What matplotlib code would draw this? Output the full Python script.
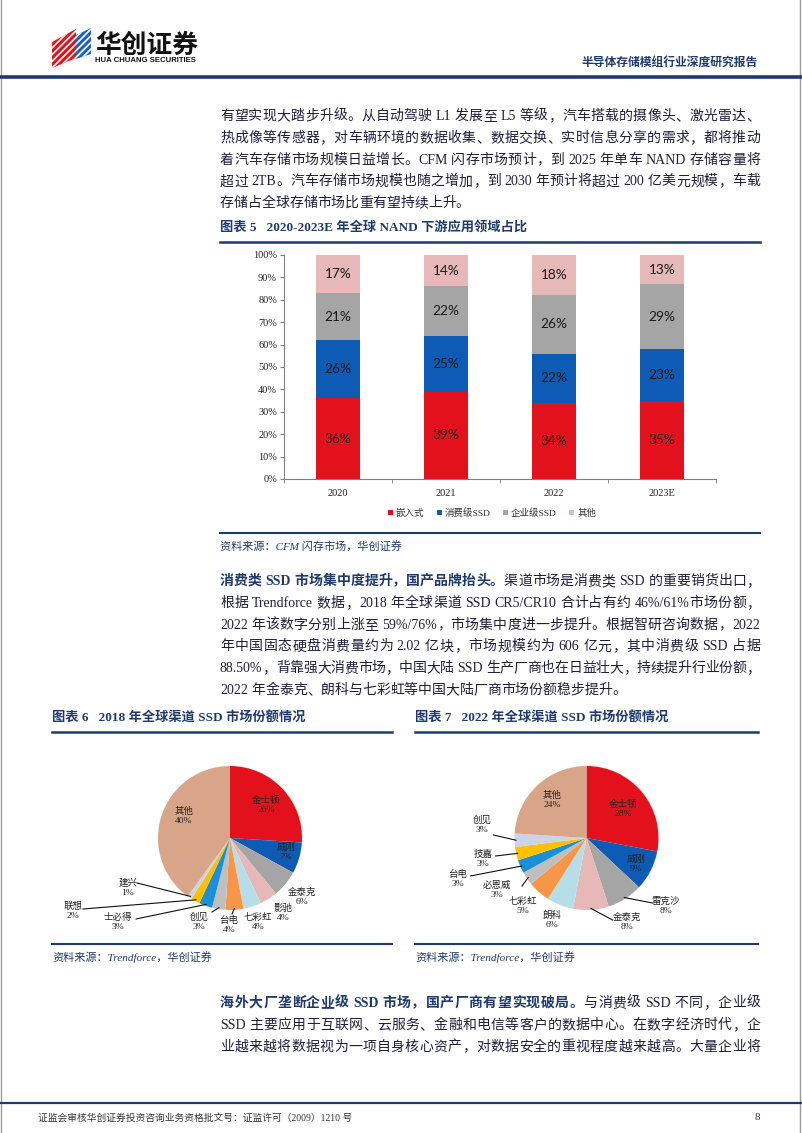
import numpy as np
import matplotlib
matplotlib.use('Agg')
import matplotlib.pyplot as plt
from matplotlib.patches import Patch, Polygon
from matplotlib.lines import Line2D

plt.rcParams['font.family'] = ['Liberation Serif', 'Noto Sans CJK SC', 'DejaVu Sans']
plt.rcParams['hatch.linewidth'] = 1.2

# ---- data ----
years = ['2020', '2021', '2022', '2023E']
segments = ['嵌入式', '消费级SSD', '企业级SSD', '其他']
embedded = [36, 39, 34, 35]
consumer_ssd = [26, 25, 22, 23]
enterprise_ssd = [21, 22, 26, 29]
others = [17, 14, 18, 13]

brands_2018 = ['金士顿', '威刚', '金泰克', '影驰', '七彩虹', '台电', '创见', '士必得', '联想', '建兴', '其他']
share_2018 = [26, 7, 6, 4, 4, 4, 3, 3, 2, 1, 40]
brands_2022 = ['金士顿', '威刚', '雷克沙', '金泰克', '朗科', '七彩虹', '必恩威', '台电', '技嘉', '创见', '其他']
share_2022 = [28, 9, 8, 8, 6, 5, 3, 3, 3, 3, 24]

bar_colors = ['#E3111B', '#0D5BB5', '#A5A5A5', '#E6B8B7']
pie_colors = ['#E3111B', '#0D5BB5', '#A5A5A5', '#E6B8B7', '#B7DEE8', '#F79646',
              '#BFBFBF', '#1B8FD8', '#FFC000', '#CBD3E8', '#D9A588']

NAVY = '#1F3A6E'
TXT = '#1f1f3d'

W, H = 802, 1133
fig = plt.figure(figsize=(W / 100, H / 100), dpi=100)
renderer = fig.canvas.get_renderer()


def fx(x):
    return x / W


def fy(y):
    return 1 - y / H


def hline(x0, x1, y, lw, color=NAVY):
    fig.add_artist(Line2D([fx(x0), fx(x1)], [fy(y), fy(y)], color=color, lw=lw,
                          transform=fig.transFigure))


# ---- page chrome ----
fig.add_artist(Line2D([fx(1), fx(1)], [0, 1], color='#9a9a9a', lw=1, transform=fig.transFigure))
fig.add_artist(Line2D([fx(800), fx(800)], [0, 1], color='#9a9a9a', lw=1, transform=fig.transFigure))
hline(0, W, 77, 2.6)
hline(0, W, 1103, 1.6)

# logo
red = Polygon([(fx(x), fy(y)) for x, y in [(52, 42), (76, 29), (76, 58), (52, 68)]],
              closed=True, facecolor='#E3111B', edgecolor='white', lw=0, hatch='/////',
              transform=fig.transFigure)
blue = Polygon([(fx(x), fy(y)) for x, y in [(76, 35), (91, 28), (91, 54), (76, 59)]],
               closed=True, facecolor='#1E63B8', edgecolor='white', lw=0, hatch='/////',
               transform=fig.transFigure)
fig.add_artist(red)
fig.add_artist(blue)
fig.text(fx(95), fy(45), '华创证券', fontsize=18.5, weight='bold', family='Noto Sans CJK SC',
         color='#111111', va='center', ha='left')
fig.text(fx(95), fy(61), 'HUA CHUANG SECURITIES', fontsize=5.6, weight='bold',
         family='Liberation Sans', color='#111111', va='center', ha='left')
fig.text(fx(758), fy(63), '半导体存储模组行业深度研究报告', fontsize=8.5, weight='bold',
         color=NAVY, va='center', ha='right')

# footer
fig.text(fx(38), fy(1118), '证监会审核华创证券投资咨询业务资格批文号：证监许可（2009）1210 号',
         fontsize=7, color='#333333', va='center', ha='left')
fig.text(fx(760), fy(1118), '8', fontsize=8, color='#333333', va='center', ha='right')

# ---- justified body text ----
_adv_cache = {}


def advance(tok, bold, size):
    key = (tok, bold, size)
    if key not in _adv_cache:
        kw = dict(fontsize=size, weight='bold' if bold else 'normal')
        t1 = fig.text(0, 0, '|' + tok + '|', **kw)
        t0 = fig.text(0, 0, '||', **kw)
        _adv_cache[key] = t1.get_window_extent(renderer).width - t0.get_window_extent(renderer).width
        t1.remove()
        t0.remove()
    return _adv_cache[key]


def tokenize(segs):
    toks = []
    for text, bold in segs:
        cur, cur_sp, sp = '', False, False
        for ch in text:
            if ch == ' ':
                if cur:
                    toks.append((cur, bold, cur_sp))
                    cur = ''
                sp = True
            elif ord(ch) < 0x2E80:
                if not cur:
                    cur_sp, sp = sp, False
                cur += ch
            else:
                if cur:
                    toks.append((cur, bold, cur_sp))
                    cur = ''
                toks.append((ch, bold, sp))
                sp = False
        if cur:
            toks.append((cur, bold, cur_sp))
    return toks


def draw_line(segs, yc, justify=True, x0=220, x1=760, size=10):
    toks = tokenize(segs)
    advs = [advance(t, b, size) for t, b, _ in toks]
    sp_w = advance(' ', False, size)
    natural = sum(advs) + sp_w * sum(1 for i, tk in enumerate(toks) if tk[2] and i > 0)
    extra = (x1 - x0 - natural) / (len(toks) - 1) if justify and len(toks) > 1 else 0
    x = x0
    for i, (t, b, s) in enumerate(toks):
        if s and i > 0:
            x += sp_w
        fig.text(fx(x), fy(yc + 5), t, fontsize=size, weight='bold' if b else 'normal',
                 color=NAVY if b else TXT, va='baseline', ha='left')
        x += advs[i] + extra


def paragraph(lines, y0, step=21.8):
    for k, segs in enumerate(lines):
        draw_line(segs, y0 + k * step, justify=k < len(lines) - 1 or len(lines) == 3)


para1 = [
    [('有望实现大踏步升级。从自动驾驶 L1 发展至 L5 等级，汽车搭载的摄像头、激光雷达、', False)],
    [('热成像等传感器，对车辆环境的数据收集、数据交换、实时信息分享的需求，都将推动', False)],
    [('着汽车存储市场规模日益增长。CFM 闪存市场预计，到 2025 年单车 NAND 存储容量将', False)],
    [('超过 2TB。汽车存储市场规模也随之增加，到 2030 年预计将超过 200 亿美元规模，车载', False)],
    [('存储占全球存储市场比重有望持续上升。', False)],
]
para2 = [
    [('消费类 SSD 市场集中度提升，国产品牌抬头。', True), ('渠道市场是消费类 SSD 的重要销货出口，', False)],
    [('根据 Trendforce 数据，2018 年全球渠道 SSD CR5/CR10 合计占有约 46%/61%市场份额，', False)],
    [('2022 年该数字分别上涨至 59%/76%，市场集中度进一步提升。根据智研咨询数据，2022', False)],
    [('年中国固态硬盘消费量约为 2.02 亿块，市场规模约为 606 亿元，其中消费级 SSD 占据', False)],
    [('88.50%，背靠强大消费市场，中国大陆 SSD 生产厂商也在日益壮大，持续提升行业份额，', False)],
    [('2022 年金泰克、朗科与七彩虹等中国大陆厂商市场份额稳步提升。', False)],
]
para3 = [
    [('海外大厂垄断企业级 SSD 市场，国产厂商有望实现破局。', True), ('与消费级 SSD 不同，企业级', False)],
    [('SSD 主要应用于互联网、云服务、金融和电信等客户的数据中心。在数字经济时代，企', False)],
    [('业越来越将数据视为一项自身核心资产，对数据安全的重视程度越来越高。大量企业将', False)],
]
paragraph(para1, 115)
paragraph(para2, 580)
paragraph(para3, 1002)


def chart_title(x0, x1, y, text):
    fig.text(fx(x0), fy(y), text, fontsize=9.5, weight='bold', color=NAVY, va='center', ha='left')
    hline(x0, x1, y + 15, 1.8)


def chart_source(x0, x1, y, text):
    hline(x0, x1, y, 1.5)
    fig.text(fx(x0), fy(y + 13), text, fontsize=8, style='italic', color=NAVY, va='center', ha='left')


chart_title(220, 760, 227, '图表 5   2020-2023E 年全球 NAND 下游应用领域占比')
chart_source(220, 760, 533, '资料来源：CFM 闪存市场，华创证券')
chart_title(52, 392, 717, '图表 6   2018 年全球渠道 SSD 市场份额情况')
chart_source(52, 392, 944, '资料来源：Trendforce，华创证券')
chart_title(415, 758, 717, '图表 7   2022 年全球渠道 SSD 市场份额情况')
chart_source(415, 758, 944, '资料来源：Trendforce，华创证券')

# ---- stacked bar chart ----
ax = fig.add_axes([fx(284), fy(479), 432 / W, 224 / H])
x = np.arange(len(years))
bottom = np.zeros(len(years))
for vals, col, name in zip([embedded, consumer_ssd, enterprise_ssd, others], bar_colors, segments):
    ax.bar(x, vals, bottom=bottom, width=0.4, color=col, label=name, linewidth=0)
    for xi, b, v in zip(x, bottom, vals):
        ax.text(xi, b + v / 2, f'{v}%', ha='center', va='center', fontsize=9.8,
                family='Lato', color='#1a1a1a')
    bottom += np.array(vals)

ax.set_xlim(-0.5, len(years) - 0.5)
ax.set_ylim(0, 100)
ax.set_yticks(np.arange(0, 101, 10))
ax.set_yticklabels([f'{v}%' for v in range(0, 101, 10)])
ax.set_xticks(x)
ax.set_xticklabels(years)
ax.set_xticks(np.arange(-0.5, len(years), 1), minor=True)
ax.tick_params(axis='x', which='major', length=0, pad=7, labelsize=7.5, labelcolor='#222222')
ax.tick_params(axis='x', which='minor', length=3, color='#808080', direction='out')
ax.tick_params(axis='y', length=3, color='#808080', labelsize=7.5, labelcolor='#222222', pad=2)
for s in ['top', 'right']:
    ax.spines[s].set_visible(False)
for s in ['left', 'bottom']:
    ax.spines[s].set_color('#808080')
    ax.spines[s].set_linewidth(0.8)

handles = [Patch(facecolor=c, edgecolor='none') for c in bar_colors]
fig.legend(handles, segments, loc='center', bbox_to_anchor=(fx(492), fy(513)), ncol=4,
           frameon=False, fontsize=6.8, handlelength=0.55, handleheight=0.55,
           handletextpad=0.3, columnspacing=1.3, labelcolor='#333333')

# ---- pie charts ----
R = 72.0
# label centres and leader-line starts, pixel offsets from pie centre (y downwards)
labels_2018 = [(36, -33), (56, 14), (72, 59), (53, 75), (28, 84), (-1, 87), (-31, 84),
               (-112, 84), (-157, 73), (-102, 50), (-46, -22)]
leaders_2018 = {5: (2, 76), 6: (-18, 74), 7: (-94, 81), 8: (-147, 71), 9: (-93, 45)}
labels_2022 = [(36.5, -29), (49.5, 26), (79.5, 68), (40.5, 84), (-34.5, 82), (-63.5, 68),
               (-89.5, 52), (-128.5, 41), (-103.5, 21), (-104.5, -13), (-34.5, -38)]
leaders_2022 = {2: (66, 65), 3: (26, 82), 6: (-64.5, 48), 7: (-116, 38),
                8: (-91, 18), 9: (-93, -3)}


def draw_pie(cx, cy, names, shares, label_pos, leaders):
    hw, hh = 190, 100
    pax = fig.add_axes([fx(cx - hw), fy(cy + hh), 2 * hw / W, 2 * hh / H])
    pax.pie(shares, colors=pie_colors, startangle=90, counterclock=False, radius=1,
            wedgeprops=dict(linewidth=0))
    pax.set_xlim(-hw / R, hw / R)
    pax.set_ylim(-hh / R, hh / R)
    pax.set_aspect('equal')
    pax.axis('off')
    cum = np.cumsum([0] + list(shares)) / np.sum(shares)
    for i, (name, v) in enumerate(zip(names, shares)):
        dx, dy = label_pos[i]
        pax.text(dx / R, -dy / R, f'{name}\n{v}%', ha='center', va='center', fontsize=6.8,
                 color='#222222', linespacing=1.25)
        if i in leaders:
            ang = np.deg2rad(90 - 360 * (cum[i] + cum[i + 1]) / 2)
            sx, sy = leaders[i]
            pax.plot([np.cos(ang) * 0.98, sx / R], [np.sin(ang) * 0.98, -sy / R],
                     color='#111111', lw=0.8, clip_on=False)


draw_pie(230, 838, brands_2018, share_2018, labels_2018, leaders_2018)
draw_pie(586.5, 838, brands_2022, share_2022, labels_2022, leaders_2022)

fig.savefig('out.png', dpi=100, facecolor='white')
